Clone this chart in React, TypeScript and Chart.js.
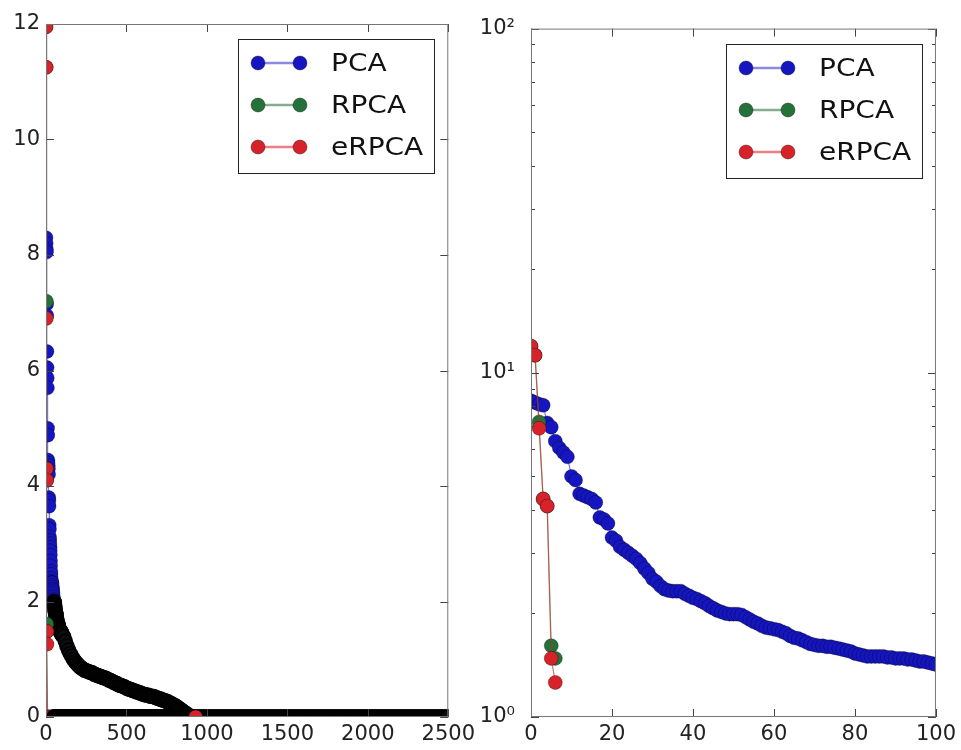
import React, { useEffect, useRef } from 'react';
import { Chart, registerables } from 'chart.js';

Chart.register(...registerables);

// ---------------- data ----------------
const SERIES = ['PCA', 'RPCA', 'eRPCA'];

// PCA values for indices 0..100
const PCA_HEAD = [
  8.3, 8.2, 8.1, 8.05, 7.15, 6.95, 6.33, 6.05, 5.87, 5.7,
  5.0, 4.88, 4.45, 4.4, 4.35, 4.3, 4.2, 3.8, 3.75, 3.65,
  3.32, 3.25, 3.12, 3.06, 3.0, 2.94, 2.88, 2.8, 2.7, 2.62,
  2.52, 2.47, 2.4, 2.35, 2.33, 2.32, 2.32, 2.32, 2.28, 2.25,
  2.22, 2.2, 2.17, 2.14, 2.1, 2.07, 2.04, 2.02, 2.0, 1.99,
  1.99, 1.99, 1.98, 1.95, 1.92, 1.89, 1.87, 1.84, 1.82, 1.81,
  1.8, 1.79, 1.77, 1.75, 1.72, 1.7, 1.69, 1.67, 1.65, 1.63,
  1.62, 1.61, 1.61, 1.6, 1.6, 1.59, 1.58, 1.57, 1.56, 1.55,
  1.53, 1.52, 1.51, 1.5, 1.5, 1.5, 1.5, 1.5, 1.49, 1.49,
  1.48, 1.48, 1.48, 1.47, 1.47, 1.46, 1.45, 1.45, 1.44, 1.43,
  1.42,
];

// RPCA / eRPCA non-zero leading values (indices 0..6)
const RPCA_HEAD = [11.95, 11.25, 7.2, 4.3, 4.1, 1.61, 1.48];
const ERPCA_HEAD = [11.95, 11.25, 6.9, 4.3, 4.1, 1.48, 1.26];

const SAMPLE_IDX = [
  10, 20, 30, 40, 50, 60, 70, 80, 90, 100, 110, 120, 130, 140, 150, 160, 170, 180, 190, 200, 210, 220, 230, 240, 250,
  260, 270, 280, 290, 300, 310, 320, 330, 340, 350, 360, 370, 380, 390, 400, 410, 420, 430, 440, 450, 460, 470, 480, 490, 500,
  510, 520, 530, 540, 550, 560, 570, 580, 590, 600, 610, 620, 630, 640, 650, 660, 670, 680, 690, 700, 710, 720, 730, 740, 750,
  760, 770, 780, 790, 800, 810, 820, 830, 840, 850, 860, 870, 880, 890, 900, 910, 920, 930, 940, 950, 960, 970, 980, 990, 1000,
  1010, 1020, 1030, 1040, 1050, 1060, 1070, 1080, 1090, 1100, 1110, 1120, 1130, 1140, 1150, 1160, 1170, 1180, 1190, 1200, 1210, 1220, 1230, 1240, 1250,
  1260, 1270, 1280, 1290, 1300, 1310, 1320, 1330, 1340, 1350, 1360, 1370, 1380, 1390, 1400, 1410, 1420, 1430, 1440, 1450, 1460, 1470, 1480, 1490, 1500,
  1510, 1520, 1530, 1540, 1550, 1560, 1570, 1580, 1590, 1600, 1610, 1620, 1630, 1640, 1650, 1660, 1670, 1680, 1690, 1700, 1710, 1720, 1730, 1740, 1750,
  1760, 1770, 1780, 1790, 1800, 1810, 1820, 1830, 1840, 1850, 1860, 1870, 1880, 1890, 1900, 1910, 1920, 1930, 1940, 1950, 1960, 1970, 1980, 1990, 2000,
  2010, 2020, 2030, 2040, 2050, 2060, 2070, 2080, 2090, 2100, 2110, 2120, 2130, 2140, 2150, 2160, 2170, 2180, 2190, 2200, 2210, 2220, 2230, 2240, 2250,
  2260, 2270, 2280, 2290, 2300, 2310, 2320, 2330, 2340, 2350, 2360, 2370, 2380, 2390, 2400, 2410, 2420, 2430, 2440, 2450, 2460, 2470, 2480, 2490, 2500,
];

// PCA tail values at SAMPLE_IDX 110..900
const PCA_TAIL_FIRST = 110;
const PCA_TAIL_LAST = 900;
const PCA_TAIL = [
  1.39, 1.31, 1.23, 1.16, 1.1, 1.05, 1.0, 0.96, 0.93, 0.9,
  0.87, 0.85, 0.83, 0.81, 0.8, 0.79, 0.78, 0.77, 0.76, 0.74,
  0.73, 0.72, 0.71, 0.7, 0.69, 0.68, 0.67, 0.66, 0.64, 0.63,
  0.62, 0.6, 0.59, 0.58, 0.56, 0.55, 0.54, 0.53, 0.52, 0.5,
  0.49, 0.48, 0.47, 0.46, 0.45, 0.44, 0.43, 0.42, 0.41, 0.4,
  0.39, 0.38, 0.38, 0.37, 0.36, 0.36, 0.35, 0.34, 0.33, 0.32,
  0.31, 0.3, 0.29, 0.28, 0.27, 0.26, 0.24, 0.23, 0.21, 0.2,
  0.18, 0.16, 0.14, 0.12, 0.1, 0.08, 0.06, 0.04, 0.02, 0.01,
];

// last index of the zero tails
const RPCA_LAST = 2500;
const ERPCA_LAST = 930;

const LEFT_X_TICKS = [0, 500, 1000, 1500, 2000, 2500];
const LEFT_Y_TICKS = [0, 2, 4, 6, 8, 10, 12];
const RIGHT_X_TICKS = [0, 20, 40, 60, 80, 100];
const RIGHT_Y_TICKS = [1, 2, 3, 4, 5, 6, 7, 8, 9, 10, 20, 30, 40, 50, 60, 70, 80, 90, 100];
const RIGHT_Y_LABELS: Record<number, string> = { 1: '10⁰', 10: '10¹', 100: '10²' };

// ---------------- style ----------------
const FONT = '"DejaVu Sans", sans-serif';
const TEXT = '#222';
const MARKER_COLORS = ['#1616c0', '#24723a', '#d8222a'];
const LINE_COLORS = ['rgba(20,20,200,0.55)', 'rgba(32,122,48,0.55)', 'rgba(200,40,36,0.65)'];
const LEGEND_LINE_COLORS = ['#8a8ae0', '#86ad90', '#ec8088'];
const POINT_R = 7;
const FAINT_EDGE = 'rgba(0,0,0,0.45)';
const DENSE_FILL = '#0c0c12';

const isPow10 = (v: number) => Math.abs(Math.log10(v) - Math.round(Math.log10(v))) < 1e-9;

const frameTicks = {
  id: 'frameTicks',
  afterDatasetsDraw(chart: any) {
    const { ctx, chartArea: a, scales } = chart;
    ctx.save();
    ctx.strokeStyle = '#444';
    ctx.lineWidth = 1;
    ctx.beginPath();
    const xs = scales.x;
    xs.ticks.forEach((t: any) => {
      const p = Math.round(xs.getPixelForValue(t.value)) + 0.5;
      ctx.moveTo(p, a.bottom);
      ctx.lineTo(p, a.bottom - 8);
      ctx.moveTo(p, a.top);
      ctx.lineTo(p, a.top + 8);
    });
    const ys = scales.y;
    ys.ticks.forEach((t: any) => {
      const major = ys.type !== 'logarithmic' || isPow10(t.value);
      const L = major ? 8 : 4;
      const p = Math.round(ys.getPixelForValue(t.value)) + 0.5;
      ctx.moveTo(a.left, p);
      ctx.lineTo(a.left + L, p);
      ctx.moveTo(a.right, p);
      ctx.lineTo(a.right - L, p);
    });
    ctx.stroke();
    ctx.strokeStyle = '#777';
    ctx.strokeRect(a.left + 0.5, a.top + 0.5, a.right - a.left - 1, a.bottom - a.top - 1);
    ctx.restore();
  },
};

const boxLegend = {
  id: 'boxLegend',
  afterDraw(chart: any) {
    const { ctx, chartArea: a } = chart;
    const w = 196;
    const h = 134;
    const left = Math.round(a.right - 14 - w);
    const top = Math.round(a.top + 15);
    ctx.save();
    ctx.fillStyle = '#fff';
    ctx.fillRect(left, top, w, h);
    ctx.strokeStyle = '#222';
    ctx.lineWidth = 1;
    ctx.strokeRect(left + 0.5, top + 0.5, w, h);
    chart.data.datasets.forEach((ds: any, i: number) => {
      const y = top + 24 + i * 42;
      const x1 = left + 20;
      const x2 = left + 62;
      ctx.strokeStyle = LEGEND_LINE_COLORS[i];
      ctx.lineWidth = 2.5;
      ctx.beginPath();
      ctx.moveTo(x1, y);
      ctx.lineTo(x2, y);
      ctx.stroke();
      [x1, x2].forEach((x) => {
        ctx.beginPath();
        ctx.arc(x, y, 7, 0, Math.PI * 2);
        ctx.fillStyle = MARKER_COLORS[i];
        ctx.fill();
        ctx.lineWidth = 0.8;
        ctx.strokeStyle = FAINT_EDGE;
        ctx.stroke();
      });
      ctx.save();
      ctx.translate(left + 93, y + 1);
      ctx.scale(1.12, 1);
      ctx.fillStyle = '#111';
      ctx.font = `25px ${FONT}`;
      ctx.textAlign = 'left';
      ctx.textBaseline = 'middle';
      ctx.fillText(ds.label, 0, 0);
      ctx.restore();
    });
    ctx.restore();
  },
};

function tickFont() {
  return { size: 21, family: FONT };
}

// In the original, thousands of overlapping black-rimmed markers turn the dense
// stretches black; the final eRPCA marker keeps its colour.
const denseAt = (c: any) => {
  if (!c.raw || c.raw.x < 50) return false;
  const last = c.dataset && c.dataIndex === c.dataset.data.length - 1;
  return !(c.datasetIndex === 2 && last);
};

function buildDatasets(seriesData: any[][], dense: (c: any) => boolean) {
  return seriesData.map((data, i) => ({
    label: SERIES[i],
    data,
    borderColor: LINE_COLORS[i],
    borderWidth: 1.2,
    pointRadius: POINT_R,
    pointBackgroundColor: (c: any) => (dense(c) ? DENSE_FILL : MARKER_COLORS[i]),
    pointBorderColor: (c: any) => (dense(c) ? '#000' : FAINT_EDGE),
    pointBorderWidth: (c: any) => (dense(c) ? 1.5 : 0.7),
    order: 3 - i,
    clip: 0,
    tension: 0,
  }));
}

function baseOptions(padRight: number) {
  return {
    animation: false,
    responsive: false,
    devicePixelRatio: 1,
    events: [],
    layout: { padding: { top: 24, right: padRight, left: 0, bottom: 0 } },
    plugins: { legend: { display: false }, tooltip: { enabled: false } },
  };
}

function xAxis(min: number, max: number, ticks: number[]) {
  return {
    type: 'linear',
    min,
    max,
    afterBuildTicks: (s: any) => {
      s.ticks = ticks.map((value) => ({ value }));
    },
    afterFit: (s: any) => {
      s.height = 33;
    },
    grid: { display: false, drawTicks: false },
    border: { display: false },
    ticks: {
      padding: 5,
      color: TEXT,
      font: tickFont(),
      autoSkip: false,
      maxRotation: 0,
      callback: (v: any) => String(v),
    },
  };
}

function leftConfig(): any {
  const pcaTailIdx = SAMPLE_IDX.filter((x) => x >= PCA_TAIL_FIRST && x <= PCA_TAIL_LAST);
  const pca = [
    ...PCA_HEAD.map((y, x) => ({ x, y })),
    ...pcaTailIdx.map((x, i) => ({ x, y: PCA_TAIL[i] })),
  ];
  const rpca = [
    ...RPCA_HEAD.map((y, x) => ({ x, y })),
    ...SAMPLE_IDX.filter((x) => x <= RPCA_LAST).map((x) => ({ x, y: 0 })),
  ];
  const erpca = [
    ...ERPCA_HEAD.map((y, x) => ({ x, y })),
    ...SAMPLE_IDX.filter((x) => x <= ERPCA_LAST).map((x) => ({ x, y: 0 })),
  ];
  return {
    type: 'line',
    data: {
      datasets: buildDatasets([pca, rpca, erpca], denseAt),
    },
    options: {
      ...baseOptions(30),
      scales: {
        x: xAxis(0, 2500, LEFT_X_TICKS),
        y: {
          type: 'linear',
          min: 0,
          max: 12,
          afterBuildTicks: (s: any) => {
            s.ticks = LEFT_Y_TICKS.map((value) => ({ value }));
          },
          afterFit: (s: any) => {
            s.width = 46;
          },
          grid: { display: false, drawTicks: false },
          border: { display: false },
          ticks: {
            padding: 6,
            color: TEXT,
            font: tickFont(),
            autoSkip: false,
            callback: (v: any) => String(v),
          },
        },
      },
    },
    plugins: [frameTicks, boxLegend],
  };
}

function rightConfig(): any {
  const pca = PCA_HEAD.map((y, x) => ({ x, y }));
  const rpca = RPCA_HEAD.map((y, x) => ({ x, y }));
  const erpca = ERPCA_HEAD.map((y, x) => ({ x, y }));
  return {
    type: 'line',
    data: {
      datasets: buildDatasets([pca, rpca, erpca], () => false),
    },
    options: {
      ...baseOptions(25),
      scales: {
        x: xAxis(0, 100, RIGHT_X_TICKS),
        y: {
          type: 'logarithmic',
          min: 1,
          max: 100,
          afterBuildTicks: (s: any) => {
            s.ticks = RIGHT_Y_TICKS.map((value) => ({ value, major: isPow10(value) }));
          },
          afterFit: (s: any) => {
            s.width = 61;
          },
          grid: { display: false, drawTicks: false },
          border: { display: false },
          ticks: {
            padding: 16,
            color: TEXT,
            font: tickFont(),
            autoSkip: false,
            callback: (v: any) => RIGHT_Y_LABELS[Math.round(Number(v))] ?? '',
          },
        },
      },
    },
    plugins: [frameTicks, boxLegend],
  };
}

function Panel({ left, width, make }: { left: number; width: number; make: () => any }) {
  const ref = useRef<HTMLCanvasElement>(null);
  useEffect(() => {
    if (!ref.current) return;
    const chart = new Chart(ref.current, make());
    return () => chart.destroy();
  }, []);
  return (
    <canvas
      ref={ref}
      width={width}
      height={750}
      style={{ position: 'absolute', left, top: 0, width: `${width}px`, height: '750px' }}
    />
  );
}

export default function App() {
  return (
    <div style={{ position: 'absolute', left: 0, top: 0, width: 961, height: 750, background: '#fff', overflow: 'hidden' }}>
      <Panel left={0} width={480} make={leftConfig} />
      <Panel left={470} width={491} make={rightConfig} />
    </div>
  );
}
